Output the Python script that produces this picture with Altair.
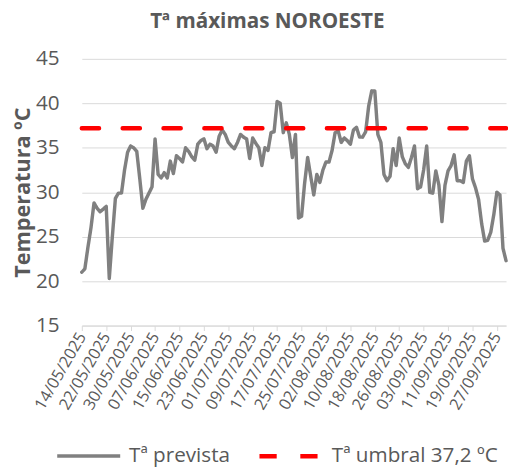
import altair as alt
import pandas as pd

titulo = "Tª máximas NOROESTE"
serie_prevista = "Tª prevista"
serie_umbral = "Tª umbral 37,2 ºC"
umbral = 37.2
fecha_inicio = "2025-05-14"

tmax = [
    21.0, 21.4, 23.8, 26.0, 28.8, 28.2, 27.8, 28.1, 28.4, 20.3,
    25.0, 29.3, 29.9, 29.9, 32.5, 34.5, 35.2, 35.0, 34.6, 31.5,
    28.2, 29.2, 29.9, 30.6, 36.0, 32.0, 31.6, 32.2, 31.6, 33.5,
    32.1, 34.1, 33.8, 33.4, 35.0, 34.6, 34.0, 33.6, 35.4, 35.8,
    36.0, 34.9, 35.4, 35.2, 34.5, 36.3, 37.0, 36.5, 35.6, 35.2,
    34.9, 35.6, 36.5, 36.2, 36.0, 33.8, 36.1, 35.5, 35.0, 33.0,
    35.0, 34.7, 36.7, 36.8, 40.2, 40.0, 36.7, 37.8, 36.5, 33.9,
    36.5, 27.1, 27.3, 31.0, 33.9, 31.8, 29.7, 32.0, 31.1, 32.5,
    33.4, 33.4, 34.7, 36.7, 36.9, 35.6, 36.1, 35.8, 35.4, 37.0,
    37.3, 36.2, 36.2, 36.8, 39.7, 41.4, 41.4, 36.5, 35.6, 32.0,
    31.3, 31.8, 34.9, 33.0, 36.1, 34.0, 33.2, 32.8, 33.9, 35.2,
    30.4, 30.6, 32.5, 35.2, 30.0, 29.9, 32.4, 30.8, 26.7, 30.8,
    32.4, 33.0, 34.2, 31.3, 31.3, 31.1, 33.5, 34.1, 31.5, 30.5,
    29.2, 26.5, 24.5, 24.6, 25.5, 27.5, 30.0, 29.7, 23.7, 22.3,
]

etiquetas_x = [
    "14/05/2025", "22/05/2025", "30/05/2025", "07/06/2025", "15/06/2025",
    "23/06/2025", "01/07/2025", "09/07/2025", "17/07/2025", "25/07/2025",
    "02/08/2025", "10/08/2025", "18/08/2025", "26/08/2025", "03/09/2025",
    "11/09/2025", "19/09/2025", "27/09/2025",
]

fechas = list(pd.date_range(fecha_inicio, periods=len(tmax)).strftime("%d/%m/%Y"))

df = pd.concat([
    pd.DataFrame({"fecha": fechas, "valor": tmax, "serie": serie_prevista, "orden": range(len(tmax))}),
    pd.DataFrame({"fecha": fechas, "valor": [umbral] * len(fechas), "serie": serie_umbral, "orden": range(len(tmax))}),
])

FONT = "Open Sans"
GRIS_TXT = "#595959"

leg = dict(title=None, orient="none", direction="horizontal",
           legendX=-27, legendY=369,
           symbolType="stroke", symbolSize=4096, symbolStrokeWidth=4.5,
           labelFont=FONT, labelFontSize=21, labelColor=GRIS_TXT, labelLimit=300,
           labelOffset=7, columnPadding=20)

chart = alt.Chart(df).mark_line(strokeCap="round", strokeJoin="round").encode(
    x=alt.X("fecha:O", sort=fechas,
            scale=alt.Scale(type="point", padding=0),
            axis=alt.Axis(values=etiquetas_x, title=None, labelAngle=-60,
                          labelFontSize=16.5, labelColor=GRIS_TXT, labelFont=FONT,
                          labelPadding=3, tickSize=5, tickColor="#d9d9d9",
                          domainColor="#d9d9d9", grid=False)),
    y=alt.Y("valor:Q", scale=alt.Scale(domain=[15, 45], nice=False),
            axis=alt.Axis(values=[15, 20, 25, 30, 35, 40, 45], title="Temperatura ºC",
                          titleFont=FONT, titleFontSize=22, titleFontWeight="bold",
                          titleColor=GRIS_TXT, titleX=-48,
                          labelFont=FONT, labelFontSize=21, labelColor=GRIS_TXT,
                          labelPadding=23, ticks=False, domain=False,
                          gridColor="#d9d9d9", gridWidth=1)),
    color=alt.Color("serie:N",
                    scale=alt.Scale(domain=[serie_prevista, serie_umbral], range=["#808080", "#ff0000"]),
                    legend=alt.Legend(**leg)),
    strokeDash=alt.StrokeDash("serie:N",
                              scale=alt.Scale(domain=[serie_prevista, serie_umbral], range=[[1, 0], [17.5, 24]]),
                              legend=alt.Legend(**leg)),
    strokeWidth=alt.StrokeWidth("serie:N",
                                scale=alt.Scale(domain=[serie_prevista, serie_umbral], range=[3.5, 4.5]),
                                legend=None),
    order="orden:Q",
).properties(
    width=431, height=271,
    title=alt.TitleParams(titulo, font=FONT, fontSize=21, fontWeight="bold", color=GRIS_TXT,
                          anchor="middle", dx=-27, offset=16),
    autosize=alt.AutoSizeParams(type="none"),
    padding={"left": 75, "top": 48, "right": 2, "bottom": 140},
).configure_view(stroke=None)

chart.save("out.html", embed_options={"renderer": "svg", "actions": False})
